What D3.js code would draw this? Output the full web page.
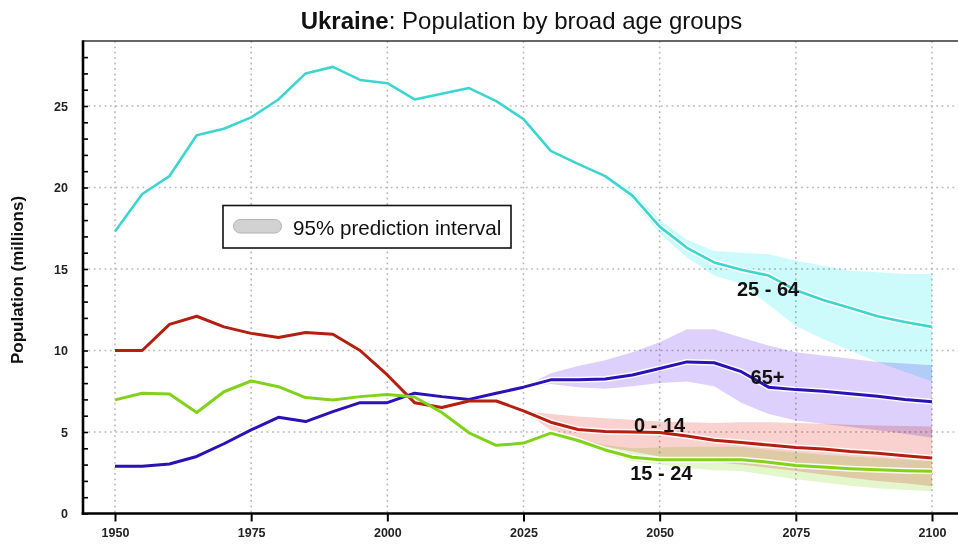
<!DOCTYPE html>
<html><head><meta charset="utf-8">
<script src="https://cdn.jsdelivr.net/npm/d3@7"></script>
<style>body{margin:0;background:#fff;} svg{display:block;font-family:"Liberation Sans",Arial,sans-serif;}</style>
</head><body>
<script>
// ---------- DATA ----------
const years = [1950,1955,1960,1965,1970,1975,1980,1985,1990,1995,2000,2005,2010,2015,2020,2025,2030,2035,2040,2045,2050,2055,2060,2065,2070,2075,2080,2085,2090,2095,2100];
const age0_14  = [10.0,10.0,11.6,12.1,11.45,11.05,10.8,11.1,11.0,10.0,8.5,6.8,6.5,6.9,6.9,6.3,5.6,5.15,5.03,5.0,4.97,4.75,4.5,4.35,4.2,4.05,3.95,3.8,3.7,3.55,3.4];
const age15_24 = [6.97,7.38,7.33,6.2,7.47,8.13,7.78,7.11,6.97,7.17,7.3,7.15,6.2,4.95,4.18,4.32,4.93,4.48,3.9,3.45,3.3,3.3,3.3,3.3,3.15,2.95,2.85,2.75,2.68,2.62,2.59];
const age25_64 = [17.3,19.6,20.7,23.2,23.6,24.3,25.4,27.0,27.4,26.6,26.4,25.4,25.75,26.1,25.3,24.2,22.25,21.45,20.7,19.5,17.6,16.3,15.4,14.95,14.6,13.7,13.1,12.6,12.1,11.75,11.45];
const age65p   = [2.9,2.9,3.04,3.5,4.28,5.13,5.9,5.64,6.25,6.8,6.8,7.38,7.17,7.0,7.38,7.75,8.2,8.2,8.25,8.5,8.9,9.3,9.25,8.7,7.75,7.6,7.5,7.35,7.2,7.0,6.85];

// 95% prediction intervals (projection period)
const bandYears = [2025,2030,2035,2040,2045,2050,2055,2060,2065,2070,2075,2080,2085,2090,2095,2100];
const lo25_64 = [24.2,22.2,21.35,20.55,19.2,17.2,15.7,14.6,14.1,12.8,11.5,10.7,10.0,9.3,8.7,8.1];
const hi25_64 = [24.2,22.3,21.55,20.85,19.8,18.0,16.8,16.1,16.0,15.9,15.5,15.2,14.9,14.8,14.7,14.7];
const lo65p   = [7.75,7.95,7.75,7.65,7.8,8.0,8.1,7.8,6.8,6.1,5.7,5.5,5.3,5.1,4.9,4.65];
const hi65p   = [7.75,8.6,9.05,9.4,9.9,10.5,11.3,11.3,10.8,10.3,9.9,9.7,9.5,9.3,9.2,9.1];
const lo0_14  = [6.3,5.1,4.5,4.1,3.8,3.5,3.3,3.15,3.0,2.8,2.6,2.4,2.2,2.0,1.85,1.67];
const hi0_14  = [6.3,6.1,5.95,5.85,5.75,5.65,5.6,5.55,5.6,5.6,5.55,5.5,5.45,5.4,5.37,5.34];
const lo15_24 = [4.32,4.9,4.3,3.7,3.2,3.0,2.8,2.65,2.6,2.35,2.1,1.9,1.7,1.55,1.45,1.36];
const hi15_24 = [4.32,4.95,4.6,4.2,4.0,4.05,4.1,4.1,4.1,3.9,3.75,3.6,3.5,3.4,3.3,3.2];

const xTicks = [1950,1975,2000,2025,2050,2075,2100];
const yTicks = [0,5,10,15,20,25];
const yMinor = [0,1,2,3,4,5,6,7,8,9,10,11,12,13,14,15,16,17,18,19,20,21,22,23,24,25,26,27,28];

const series = [
  {name:"25 - 64", vals:age25_64, lo:lo25_64, hi:hi25_64, line:"#3dd5cf", band:"#cdfafa", lw:2.6},
  {name:"65+",     vals:age65p,   lo:lo65p,   hi:hi65p,   line:"#2a12b4", band:"#ddd0fc", lw:3},
  {name:"0 - 14",  vals:age0_14,  lo:lo0_14,  hi:hi0_14,  line:"#b3200f", band:"#f9d2cf", lw:3},
  {name:"15 - 24", vals:age15_24, lo:lo15_24, hi:hi15_24, line:"#80d21a", band:"#e4f6cc", lw:3}
];
const labels = [
  {text:"25 - 64", yr:2069.9, v:13.34},
  {text:"65+",     yr:2069.8, v:7.95},
  {text:"0 - 14",  yr:2050.0, v:5.03},
  {text:"15 - 24", yr:2050.3, v:2.06}
];

// ---------- CHART ----------
const W=958, H=551;
const pLeft=83, pTop=41, pBottom=513.5, pRight=958;
const x = d3.scaleLinear().domain([1950,2100]).range([115,932]);
const y = d3.scaleLinear().domain([0,25]).range([513.5,106]);

const svg = d3.select("body").append("svg").attr("width",W).attr("height",H);

// grid
const grid = svg.append("g").attr("stroke","#b8b8b8").attr("stroke-width",1.6).attr("stroke-dasharray","1.8,3.6");
grid.selectAll(".gx").data(xTicks).join("line").attr("class","gx")
  .attr("x1",d=>x(d)).attr("x2",d=>x(d)).attr("y1",pTop).attr("y2",pBottom);
grid.selectAll(".gy").data(yTicks.filter(d=>d>0)).join("line").attr("class","gy")
  .attr("x1",pLeft).attr("x2",pRight).attr("y1",d=>y(d)).attr("y2",d=>y(d));

// bands
const area = d3.area().x(d=>x(d.yr)).y0(d=>y(d.lo)).y1(d=>y(d.hi));
const bands = svg.append("g");
series.forEach(s=>{
  const d = bandYears.map((yr,i)=>({yr, lo:s.lo[i], hi:s.hi[i]}));
  bands.append("path").datum(d).attr("d",area).attr("fill",s.band)
    .style("mix-blend-mode","multiply");
});

// lines with white halo
const line = d3.line().x(d=>x(d.yr)).y(d=>y(d.v));
const lines = svg.append("g");
series.forEach(s=>{
  const d = years.map((yr,i)=>({yr, v:s.vals[i]}));
  lines.append("path").datum(d).attr("d",line).attr("fill","none")
    .attr("stroke","#fff").attr("stroke-width",s.lw+3).attr("stroke-linejoin","round").attr("stroke-opacity",0.9);
});
series.forEach(s=>{
  const d = years.map((yr,i)=>({yr, v:s.vals[i]}));
  lines.append("path").datum(d).attr("d",line).attr("fill","none")
    .attr("stroke",s.line).attr("stroke-width",s.lw).attr("stroke-linejoin","round");
});

// series labels
svg.append("g").selectAll("text").data(labels).join("text")
  .attr("x",d=>x(d.yr)).attr("y",d=>y(d.v)).attr("text-anchor","middle")
  .attr("font-size",20).attr("font-weight","bold").attr("fill","#111")
  .text(d=>d.text);

// frame
svg.append("line").attr("x1",pLeft).attr("x2",pRight).attr("y1",pTop).attr("y2",pTop).attr("stroke","#333").attr("stroke-width",1.6);
svg.append("line").attr("x1",pLeft).attr("x2",pLeft).attr("y1",pTop-0.8).attr("y2",pBottom+1.2).attr("stroke","#000").attr("stroke-width",2.6);
svg.append("line").attr("x1",pLeft-1.3).attr("x2",pRight).attr("y1",pBottom).attr("y2",pBottom).attr("stroke","#000").attr("stroke-width",2.6);

// y axis: minor inward ticks
const yMin = svg.append("g").attr("transform",`translate(${pLeft},0)`)
  .call(d3.axisRight(y).tickValues(yMinor).tickSize(5).tickFormat(""));
yMin.select(".domain").remove();
yMin.selectAll("line").attr("stroke","#000").attr("stroke-width",1.6);
// y labels
const yLab = svg.append("g").attr("transform",`translate(${pLeft},0)`)
  .call(d3.axisLeft(y).tickValues(yTicks).tickSize(0).tickPadding(15));
yLab.select(".domain").remove();
yLab.selectAll("text").attr("font-size",12.5).attr("font-weight","bold").attr("fill","#222").attr("font-family","Liberation Sans, Arial, sans-serif");

// x axis
const xAx = svg.append("g").attr("transform",`translate(0,${pBottom})`)
  .call(d3.axisBottom(x).tickValues(xTicks).tickSize(8).tickPadding(7).tickFormat(d3.format("d")));
xAx.select(".domain").remove();
xAx.selectAll("line").attr("stroke","#000").attr("stroke-width",2);
xAx.selectAll("text").attr("font-size",12.5).attr("font-weight","bold").attr("fill","#222").attr("font-family","Liberation Sans, Arial, sans-serif");

// y title
svg.append("text").attr("transform","translate(23,280) rotate(-90)").attr("text-anchor","middle")
  .attr("font-size",17).attr("font-weight","bold").attr("fill","#111").text("Population (millions)");

// title
const t = svg.append("text").attr("x",521.5).attr("y",29).attr("text-anchor","middle").attr("font-size",24).attr("fill","#111");
t.append("tspan").attr("font-weight","bold").text("Ukraine");
t.append("tspan").text(": Population by broad age groups");

// legend
const lg = svg.append("g");
lg.append("rect").attr("x",223).attr("y",205.5).attr("width",288).attr("height",42.5).attr("fill","#fff").attr("stroke","#111").attr("stroke-width",1.6);
lg.append("rect").attr("x",233.5).attr("y",219.5).attr("width",48).attr("height",13.5).attr("rx",6.7).attr("fill","#d2d2d2").attr("stroke","#b4b4b4").attr("stroke-width",1);
lg.append("text").attr("x",293).attr("y",234.5).attr("font-size",20.6).attr("fill","#111").text("95% prediction interval");
</script>
</body></html>
